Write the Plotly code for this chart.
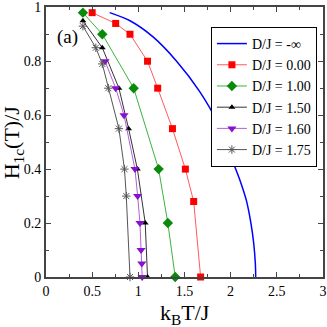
import plotly.graph_objects as go

# D/J = -inf (Ising limit), line only
ising_t = [0.69, 0.91, 1.16, 1.415, 1.66, 1.87, 2.01, 2.10, 2.17, 2.22, 2.25, 2.268, 2.272]
ising_h = [0.98, 0.95, 0.89, 0.80, 0.69, 0.565, 0.44, 0.36, 0.285, 0.20, 0.126, 0.05, 0.0]

d000_t = [0.50, 0.755, 0.91, 1.10, 1.21, 1.37, 1.51, 1.60, 1.675]
d000_h = [0.98, 0.94, 0.90, 0.80, 0.70, 0.55, 0.40, 0.28, 0.0]

d100_t = [0.40, 0.61, 0.95, 1.22, 1.32, 1.40]
d100_h = [0.98, 0.90, 0.70, 0.40, 0.20, 0.0]

d150_t = [0.40, 0.61, 0.79, 0.895, 0.99, 1.075, 1.10]
d150_h = [0.95, 0.85, 0.70, 0.55, 0.40, 0.20, 0.0]

d160_t = [0.64, 0.755, 0.845, 0.964, 0.993, 1.018, 1.03, 1.038, 1.042]
d160_h = [0.80, 0.70, 0.60, 0.40, 0.30, 0.20, 0.10, 0.05, 0.0]

d175_t = [0.40, 0.54, 0.61, 0.675, 0.79, 0.85, 0.87, 0.91]
d175_h = [0.93, 0.85, 0.79, 0.70, 0.55, 0.40, 0.30, 0.0]

serif = "Liberation Serif"

fig = go.Figure()
fig.add_trace(go.Scatter(x=ising_t, y=ising_h, mode="lines", name="D/J = -∞",
                         line=dict(color="#0000ff", width=1.5, shape="spline", smoothing=0.8)))
fig.add_trace(go.Scatter(x=d000_t, y=d000_h, mode="lines+markers", name="D/J = 0.00",
                         line=dict(color="#ff5a5a", width=1),
                         marker=dict(symbol="square", size=7, color="#ff0000")))
fig.add_trace(go.Scatter(x=d100_t, y=d100_h, mode="lines+markers", name="D/J = 1.00",
                         line=dict(color="#3cb43c", width=1),
                         marker=dict(symbol="diamond", size=8, color="#0a8a0a")))
fig.add_trace(go.Scatter(x=d150_t, y=d150_h, mode="lines+markers", name="D/J = 1.50",
                         line=dict(color="#333333", width=1),
                         marker=dict(symbol="triangle-up", size=6, color="#000000")))
fig.add_trace(go.Scatter(x=d160_t, y=d160_h, mode="lines+markers", name="D/J = 1.60",
                         line=dict(color="#b060d8", width=1),
                         marker=dict(symbol="triangle-down", size=8, color="#8a10d0")))
fig.add_trace(go.Scatter(x=d175_t, y=d175_h, mode="lines+markers", name="D/J = 1.75",
                         line=dict(color="#555555", width=1),
                         marker=dict(symbol="asterisk-open", size=7,
                                     line=dict(color="#000000", width=1))))
fig.update_traces(cliponaxis=False)

fig.add_annotation(x=0.23, y=0.89, text="(a)", showarrow=False,
                   font=dict(family=serif, size=19, color="black"))
# axis titles as annotations so they sit where the reference has them
fig.add_annotation(xref="paper", yref="paper", x=0.5, y=-0.137, yanchor="middle",
                   text="k<sub>B</sub>T/J", showarrow=False,
                   font=dict(family=serif, size=22, color="black"))
fig.add_annotation(xref="paper", yref="paper", x=-0.118, y=0.5, xanchor="center",
                   text="H<sub>1c</sub>(T)/J", showarrow=False, textangle=-90,
                   font=dict(family=serif, size=22, color="black"))

axis_style = dict(showline=True, linecolor="#444444", linewidth=2, mirror="allticks",
                  ticks="inside", ticklen=5, tickcolor="#444444",
                  showgrid=False, zeroline=False, automargin=False,
                  tickfont=dict(family=serif, size=14, color="black"))

fig.update_xaxes(range=[0, 3.001], tickvals=[0, 0.5, 1, 1.5, 2, 2.5, 3],
                 ticktext=["0", "0.5", "1", "1.5", "2", "2.5", "3"],
                 minor=dict(dtick=0.25, ticks="inside", ticklen=3, tickcolor="#444444"),
                 **axis_style)
fig.update_yaxes(range=[0, 1.001], tickvals=[0, 0.2, 0.4, 0.6, 0.8, 1],
                 ticktext=["0", "0.2", "0.4", "0.6", "0.8", "1"],
                 minor=dict(dtick=0.1, ticks="inside", ticklen=3, tickcolor="#444444"),
                 **axis_style)

fig.update_layout(
    width=327, height=327, autosize=False,
    margin=dict(l=46, r=4, t=7, b=50),
    plot_bgcolor="white", paper_bgcolor="white",
    font=dict(family=serif, color="black"),
    legend=dict(x=0.978, y=0.926, xanchor="right", yanchor="top",
                bordercolor="black", borderwidth=1, bgcolor="white",
                font=dict(family=serif, size=14, color="black"),
                tracegroupgap=0, itemwidth=30),
)

fig.write_html("out.html",
               config={"displayModeBar": False, "responsive": False},
               post_script="document.body.style.margin='0';document.body.style.overflow='hidden';")
